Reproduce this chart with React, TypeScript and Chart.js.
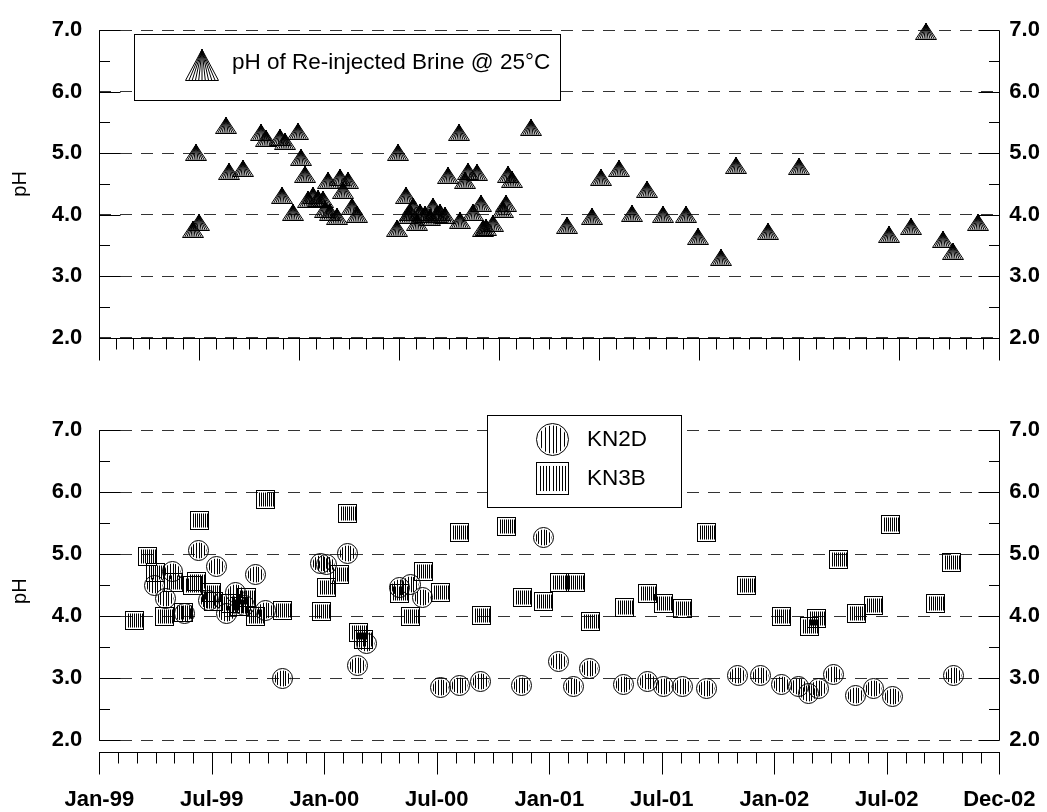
import React, { useEffect, useRef } from 'react';
import { Chart, registerables } from 'chart.js';

Chart.register(...registerables);

// ---------------- data (dates as decimal years, values pH) ----------------
const BRINE_DATE = [
  1999.418, 1999.430, 1999.444, 1999.563, 1999.578, 1999.640, 1999.717, 1999.740, 1999.803, 1999.812,
  1999.825, 1999.862, 1999.882, 1999.896, 1999.914, 1999.929, 1999.951, 1999.973, 1999.996, 2000.003,
  2000.018, 2000.025, 2000.055, 2000.070, 2000.084, 2000.107, 2000.122, 2000.144, 2000.322, 2000.329,
  2000.362, 2000.373, 2000.381, 2000.396, 2000.411, 2000.425, 2000.448, 2000.470, 2000.484, 2000.500,
  2000.514, 2000.536, 2000.548, 2000.600, 2000.603, 2000.625, 2000.640, 2000.662, 2000.677, 2000.696,
  2000.707, 2000.719, 2000.751, 2000.796, 2000.808, 2000.815, 2000.833, 2000.919, 2001.080, 2001.188,
  2001.228, 2001.310, 2001.369, 2001.436, 2001.507, 2001.608, 2001.662, 2001.763, 2001.830, 2001.972,
  2002.111, 2002.511, 2002.608, 2002.674, 2002.748, 2002.796, 2002.907,
];
const BRINE_PH = [
  3.76, 5.01, 3.88, 5.45, 4.70, 4.75, 5.33, 5.24, 5.25, 4.32,
  5.19, 4.03, 5.35, 4.93, 4.65, 4.25, 4.32, 4.27, 4.24, 4.08,
  4.56, 4.03, 3.97, 4.60, 4.40, 4.55, 4.14, 4.00, 3.77, 5.01,
  4.32, 3.98, 4.03, 4.14, 3.87, 4.03, 4.00, 3.95, 4.14, 4.00,
  4.03, 3.99, 4.63, 5.33, 3.91, 4.56, 4.70, 4.04, 4.69, 4.18,
  3.77, 3.79, 3.85, 4.08, 4.18, 4.65, 4.57, 5.42, 3.83, 3.97,
  4.60, 4.75, 4.02, 4.41, 4.01, 4.01, 3.65, 3.31, 4.80, 3.72,
  4.79, 3.68, 3.81, 6.98, 3.59, 3.40, 3.87,
];

const KN2D_DATE = [
  1999.244, 1999.296, 1999.324, 1999.378, 1999.443, 1999.484, 1999.519, 1999.566, 1999.606, 1999.644,
  1999.696, 1999.740, 1999.815, 1999.985, 2000.011, 2000.104, 2000.148, 2000.188, 2000.336, 2000.381,
  2000.437, 2000.516, 2000.602, 2000.694, 2000.877, 2000.975, 2001.042, 2001.107, 2001.180, 2001.330,
  2001.436, 2001.506, 2001.591, 2001.697, 2001.836, 2001.937, 2002.032, 2002.106, 2002.152, 2002.197,
  2002.265, 2002.363, 2002.441, 2002.524, 2002.797,
];
const KN2D_PH = [
  4.49, 4.28, 4.72, 4.04, 5.06, 4.25, 4.81, 4.05, 4.38, 4.17,
  4.67, 4.09, 3.00, 4.85, 4.83, 5.01, 3.21, 3.56, 4.47, 4.51,
  4.31, 2.85, 2.88, 2.95, 2.89, 5.27, 3.27, 2.87, 3.16, 2.90,
  2.94, 2.87, 2.87, 2.84, 3.05, 3.05, 2.90, 2.86, 2.76, 2.84,
  3.06, 2.72, 2.83, 2.71, 3.04,
];

const KN3B_DATE = [
  1999.156, 1999.213, 1999.248, 1999.289, 1999.329, 1999.373, 1999.415, 1999.433, 1999.444, 1999.500,
  1999.507, 1999.581, 1999.625, 1999.655, 1999.696, 1999.740, 1999.815, 1999.988, 2000.011, 2000.067,
  2000.104, 2000.151, 2000.173, 2000.336, 2000.384, 2000.440, 2000.517, 2000.603, 2000.700, 2000.808,
  2000.881, 2000.975, 2001.046, 2001.116, 2001.184, 2001.332, 2001.436, 2001.506, 2001.591, 2001.697,
  2001.876, 2002.034, 2002.155, 2002.188, 2002.285, 2002.366, 2002.440, 2002.518, 2002.716, 2002.788,
];
const KN3B_PH = [
  3.93, 4.97, 4.71, 4.00, 4.54, 4.06, 4.49, 4.56, 5.55, 4.38,
  4.23, 4.20, 4.16, 4.30, 3.99, 5.89, 4.09, 4.08, 4.47, 4.68,
  5.66, 3.73, 3.62, 4.36, 3.99, 4.72, 4.39, 5.35, 4.02, 5.44,
  4.31, 4.24, 4.54, 4.54, 3.91, 4.14, 4.37, 4.21, 4.13, 5.35,
  4.49, 3.99, 3.83, 3.96, 4.92, 4.04, 4.17, 5.48, 4.21, 4.86,
];

const Y_TICKS = [2, 3, 4, 5, 6, 7];
const Y_MINOR = [2.5, 3.5, 4.5, 5.5, 6.5];
const X_LABEL_VALUES = [1999, 1999.5, 2000, 2000.5, 2001, 2001.5, 2002, 2002.5, 2003];
const X_TICK_LABELS = ['Jan-99', 'Jul-99', 'Jan-00', 'Jul-00', 'Jan-01', 'Jul-01', 'Jan-02', 'Jul-02', 'Dec-02'];
const X_MIN = 1999;
const X_MAX = 2003;

const BRINE_LABEL = 'pH of Re-injected Brine @ 25°C';
const KN2D_LABEL = 'KN2D';
const KN3B_LABEL = 'KN3B';

// ---------------- layout / style ----------------
const FONT = "'Liberation Sans', Arial, Helvetica, sans-serif";
const W = 1047;
const TOP_H = 400;
const BOT_H = 412;
const PLOT_LEFT = 99.3;
const PLOT_RIGHT = 999.3;

function steps(a: number, b: number, n: number) {
  const out: number[] = [];
  for (let i = 0; i <= n; i++) out.push(a + ((b - a) * i) / n);
  return out;
}
const TOP_MAJOR = steps(X_MIN, X_MAX, 9);
const TOP_MINOR = steps(X_MIN, X_MAX, 54);
const BOT_MAJOR = X_LABEL_VALUES;
const BOT_MINOR = steps(X_MIN, X_MAX, 48);

function mk(w: number, h: number) {
  const c = document.createElement('canvas');
  c.width = w;
  c.height = h;
  return c;
}

function triangleMarker(w: number, h: number, n: number) {
  const c = mk(w, h);
  const g = c.getContext('2d')!;
  g.strokeStyle = '#000';
  g.lineWidth = 1;
  const ax = w / 2;
  const ay = 0.5;
  const by = h - 0.5;
  g.beginPath();
  for (let i = 0; i <= n; i++) {
    const bx = 0.5 + ((w - 1) * i) / n;
    g.moveTo(ax, ay);
    g.lineTo(bx, by);
  }
  g.moveTo(0.5, by);
  g.lineTo(w - 0.5, by);
  g.stroke();
  return c;
}

function circleMarker(d: number, n: number) {
  const c = mk(d, d);
  const g = c.getContext('2d')!;
  g.strokeStyle = '#000';
  g.lineWidth = 1;
  const cx = d / 2;
  const r = d / 2 - 0.5;
  g.beginPath();
  g.arc(cx, cx, r, 0, Math.PI * 2);
  g.stroke();
  g.save();
  g.beginPath();
  g.arc(cx, cx, r - 2, 0, Math.PI * 2);
  g.clip();
  g.beginPath();
  const span = d * 0.36;
  for (let i = 0; i < n; i++) {
    const x = Math.round(cx - span + (2 * span * i) / (n - 1)) + 0.5;
    g.moveTo(x, 0);
    g.lineTo(x, d);
  }
  g.stroke();
  g.restore();
  return c;
}

function squareMarker(s: number, n: number) {
  const c = mk(s, s);
  const g = c.getContext('2d')!;
  g.strokeStyle = '#000';
  g.lineWidth = 1;
  g.strokeRect(0.5, 0.5, s - 1, s - 1);
  const inset = Math.max(2.5, s * 0.12);
  g.beginPath();
  for (let i = 0; i < n; i++) {
    const x = Math.round(inset + ((s - 2 * inset) * i) / (n - 1)) + 0.5;
    g.moveTo(x, inset);
    g.lineTo(x, s - inset);
  }
  g.stroke();
  return c;
}

const crispMarkers = {
  id: 'crispMarkers',
  beforeDatasetsDraw(chart: any) {
    chart.ctx.imageSmoothingEnabled = false;
  },
  afterDatasetsDraw(chart: any) {
    chart.ctx.imageSmoothingEnabled = true;
  },
};

function framePlugin(xMajor: number[], xMinor: number[], drawLegend: (ctx: CanvasRenderingContext2D) => void) {
  return {
    id: 'frame',
    afterDraw(chart: any) {
      const { ctx, chartArea } = chart;
      const xs = chart.scales.x;
      const ys = chart.scales.y;
      const px = (v: number) => Math.round(xs.getPixelForValue(v)) + 0.5;
      const py = (v: number) => Math.round(ys.getPixelForValue(v)) + 0.5;
      const L = px(X_MIN);
      const R = px(X_MAX);
      const T = py(7);
      const B = py(2);
      const A = Math.round(chartArea.bottom) + 0.5;
      ctx.save();
      ctx.strokeStyle = '#000';
      ctx.lineWidth = 1;
      ctx.setLineDash([]);
      ctx.beginPath();
      ctx.moveTo(L, T);
      ctx.lineTo(L, B);
      ctx.moveTo(R, T);
      ctx.lineTo(R, B);
      Y_TICKS.forEach((v) => {
        const y = py(v);
        ctx.moveTo(L, y);
        ctx.lineTo(L + 21, y);
        ctx.moveTo(R, y);
        ctx.lineTo(R - 21, y);
      });
      Y_MINOR.forEach((v) => {
        const y = py(v);
        ctx.moveTo(L, y);
        ctx.lineTo(L + 10.5, y);
        ctx.moveTo(R, y);
        ctx.lineTo(R - 10.5, y);
      });
      ctx.moveTo(L - 0.5, A);
      ctx.lineTo(R + 0.5, A);
      xMinor.forEach((v) => {
        const x = px(v);
        ctx.moveTo(x, A);
        ctx.lineTo(x, A + 11);
      });
      xMajor.forEach((v) => {
        const x = px(v);
        ctx.moveTo(x, A);
        ctx.lineTo(x, A + 22);
      });
      ctx.stroke();
      ctx.restore();
      ctx.save();
      drawLegend(ctx);
      ctx.restore();
    },
  };
}

const tickFont = { size: 22, weight: 'bold' as const, family: FONT };

function yScales(yMin: number, withTitle: boolean) {
  const setTicks = (s: any) => {
    s.ticks = Y_TICKS.map((v) => ({ value: v }));
  };
  return {
    y: {
      type: 'linear',
      position: 'left',
      min: yMin,
      max: 7,
      afterBuildTicks: setTicks,
      afterFit: (s: any) => {
        s.width = PLOT_LEFT;
      },
      ticks: {
        callback: (v: any) => Number(v).toFixed(1),
        font: tickFont,
        color: '#000',
        padding: 17,
      },
      grid: { color: '#333', lineWidth: 1, drawTicks: false },
      border: { display: false, dash: [12, 9] },
      title: {
        display: withTitle,
        text: 'pH',
        color: '#000',
        font: { size: 20, weight: 'normal' as const, family: FONT },
        padding: { top: 8, bottom: 0 },
      },
    },
    y2: {
      type: 'linear',
      position: 'right',
      min: yMin,
      max: 7,
      afterBuildTicks: setTicks,
      afterFit: (s: any) => {
        s.width = W - PLOT_RIGHT;
      },
      ticks: {
        callback: (v: any) => Number(v).toFixed(1),
        font: tickFont,
        color: '#000',
        padding: 10,
      },
      grid: { display: false, drawTicks: false },
      border: { display: false },
    },
  };
}

export default function App() {
  const topRef = useRef<HTMLCanvasElement>(null);
  const botRef = useRef<HTMLCanvasElement>(null);

  useEffect(() => {
    Chart.defaults.font.family = FONT;
    Chart.defaults.color = '#000';

    const tri = triangleMarker(22, 17, 10);
    const triBig = triangleMarker(34, 32, 10);
    const circ = circleMarker(21, 7);
    const circBig = circleMarker(33, 7);
    const sq = squareMarker(19, 8);
    const sqBig = squareMarker(33, 9);

    const topLegend = (ctx: CanvasRenderingContext2D) => {
      ctx.fillStyle = '#fff';
      ctx.fillRect(134.5, 34.5, 426, 66);
      ctx.strokeStyle = '#000';
      ctx.lineWidth = 1;
      ctx.strokeRect(134.5, 34.5, 426, 66);
      ctx.drawImage(triBig, 202 - 17, 65 - 16);
      ctx.fillStyle = '#000';
      ctx.font = `22.5px ${FONT}`;
      ctx.textBaseline = 'middle';
      ctx.textAlign = 'left';
      ctx.fillText(BRINE_LABEL, 232, 63);
    };

    const botLegend = (ctx: CanvasRenderingContext2D) => {
      ctx.fillStyle = '#fff';
      ctx.fillRect(487.5, 15.5, 194, 92);
      ctx.strokeStyle = '#000';
      ctx.lineWidth = 1;
      ctx.strokeRect(487.5, 15.5, 194, 92);
      ctx.drawImage(circBig, 536, 23);
      ctx.drawImage(sqBig, 536, 62);
      ctx.fillStyle = '#000';
      ctx.font = `22.5px ${FONT}`;
      ctx.textBaseline = 'middle';
      ctx.textAlign = 'left';
      ctx.fillText(KN2D_LABEL, 587, 40);
      ctx.fillText(KN3B_LABEL, 587, 79);
    };

    const c1 = new Chart(topRef.current!, {
      type: 'scatter',
      data: {
        datasets: [
          {
            label: BRINE_LABEL,
            data: BRINE_DATE.map((d, i) => ({ x: d, y: BRINE_PH[i] })),
            pointStyle: tri as any,
            pointRadius: 10,
            clip: false as any,
          },
        ],
      },
      options: {
        animation: false,
        responsive: false,
        events: [],
        layout: { padding: { top: 19.3, left: 0, right: 0, bottom: 0 } },
        plugins: { legend: { display: false }, tooltip: { enabled: false } },
        scales: {
          x: {
            type: 'linear',
            min: X_MIN,
            max: X_MAX,
            grid: { display: false, drawTicks: false },
            border: { display: false },
            ticks: { display: false },
            afterFit: (s: any) => {
              s.height = TOP_H - 337.7;
              s.paddingLeft = 0;
              s.paddingRight = 0;
            },
          },
          ...(yScales(2, true) as any),
        },
      } as any,
      plugins: [crispMarkers, framePlugin(TOP_MAJOR, TOP_MINOR, topLegend)],
    });

    const c2 = new Chart(botRef.current!, {
      type: 'scatter',
      data: {
        datasets: [
          {
            label: KN2D_LABEL,
            data: KN2D_DATE.map((d, i) => ({ x: d, y: KN2D_PH[i] })),
            pointStyle: circ as any,
            pointRadius: 10,
            clip: false as any,
          },
          {
            label: KN3B_LABEL,
            data: KN3B_DATE.map((d, i) => ({ x: d, y: KN3B_PH[i] })),
            pointStyle: sq as any,
            pointRadius: 10,
            clip: false as any,
          },
        ],
      },
      options: {
        animation: false,
        responsive: false,
        events: [],
        layout: { padding: { top: 21.7, left: 0, right: 0, bottom: 0 } },
        plugins: { legend: { display: false }, tooltip: { enabled: false } },
        scales: {
          x: {
            type: 'linear',
            min: X_MIN,
            max: X_MAX,
            grid: { display: false, drawTicks: false },
            border: { display: false },
            afterBuildTicks: (s: any) => {
              s.ticks = X_LABEL_VALUES.map((v) => ({ value: v }));
            },
            ticks: {
              callback: (_v: any, i: number) => X_TICK_LABELS[i],
              font: tickFont,
              color: '#000',
              padding: 35,
              maxRotation: 0,
              autoSkip: false,
            },
            afterFit: (s: any) => {
              s.height = BOT_H - 352;
              s.paddingLeft = 0;
              s.paddingRight = 0;
            },
          },
          ...(yScales(1.811, true) as any),
        },
      } as any,
      plugins: [crispMarkers, framePlugin(BOT_MAJOR, BOT_MINOR, botLegend)],
    });

    return () => {
      c1.destroy();
      c2.destroy();
    };
  }, []);

  return (
    <div style={{ position: 'absolute', left: 0, top: 0, width: W, height: TOP_H + BOT_H, background: '#fff' }}>
      <canvas ref={topRef} width={W} height={TOP_H} style={{ position: 'absolute', left: 0, top: 0 }} />
      <canvas ref={botRef} width={W} height={BOT_H} style={{ position: 'absolute', left: 0, top: TOP_H }} />
    </div>
  );
}
